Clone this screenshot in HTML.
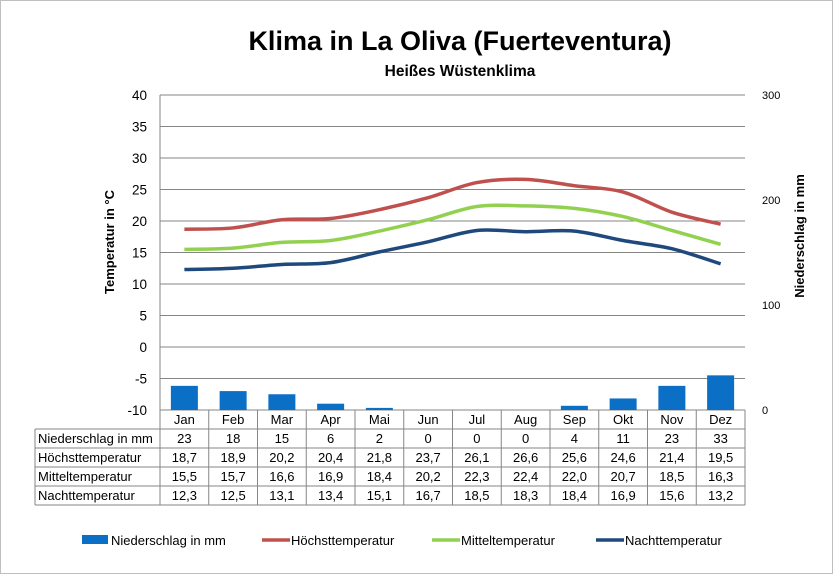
<!DOCTYPE html>
<html><head><meta charset="utf-8"><style>
body{margin:0;background:#fff;}
svg{display:block;font-family:"Liberation Sans",Arial,sans-serif;}
</style></head><body>
<svg id="chart" width="836" height="575" viewBox="0 0 836 575">
<rect x="0.5" y="0.5" width="832" height="573" fill="#fff" stroke="#bfbfbf"/>
<text x="460" y="50" text-anchor="middle" font-size="27" font-weight="bold">Klima in La Oliva (Fuerteventura)</text>
<text x="460" y="76" text-anchor="middle" font-size="15.5" font-weight="bold">Heißes Wüstenklima</text>
<text transform="translate(114,242) rotate(-90)" text-anchor="middle" font-size="13" font-weight="bold">Temperatur in °C</text>
<text transform="translate(804,236) rotate(-90)" text-anchor="middle" font-size="13" font-weight="bold">Niederschlag in mm</text>
<g id="grid"></g><g id="bars"></g><g id="lines"></g><g id="table"></g><g id="legend"></g>
</svg>
<script>
const months=["Jan","Feb","Mar","Apr","Mai","Jun","Jul","Aug","Sep","Okt","Nov","Dez"];
const rain=[23,18,15,6,2,0,0,0,4,11,23,33];
const tmax=[18.7,18.9,20.2,20.4,21.8,23.7,26.1,26.6,25.6,24.6,21.4,19.5];
const tmean=[15.5,15.7,16.6,16.9,18.4,20.2,22.3,22.4,22.0,20.7,18.5,16.3];
const tmin=[12.3,12.5,13.1,13.4,15.1,16.7,18.5,18.3,18.4,16.9,15.6,13.2];
const leftTicks=[40,35,30,25,20,15,10,5,0,-5,-10];
const rightTicks=[300,200,100,0];
const NS="http://www.w3.org/2000/svg";
const L=160,R=745,T=95,B=410,cw=(R-L)/12;
const yT=v=>B-(v+10)*(B-T)/50;
const yR=v=>B-v*(B-T)/300;
const xC=i=>L+cw*(i+0.5);
function mk(tag,attrs,parent,txt){const e=document.createElementNS(NS,tag);for(const k in attrs)e.setAttribute(k,attrs[k]);if(txt!==undefined)e.textContent=txt;parent.appendChild(e);return e;}
const fmt=v=>String(v.toFixed(1)).replace('.',',');
const grid=document.getElementById('grid');
leftTicks.forEach(t=>{
 const y=yT(t);
 const ln=mk('line',{x1:L,x2:R,y1:y,y2:y,stroke:'#868686','stroke-width':1},grid);
 
 
 const tx=mk('text',{x:147,y:y+5,'text-anchor':'end','font-size':13.5},grid,String(t));
 
 
});
mk('line',{x1:L,x2:L,y1:T,y2:B,stroke:'#868686'},grid);
rightTicks.forEach(t=>{
 const tx=mk('text',{x:762,y:yR(t)+4,'font-size':11},grid,String(t));
 
 
});
const bars=document.getElementById('bars');
rain.forEach((v,i)=>{
 const h=B-yR(v);
 const r=mk('rect',{x:xC(i)-13.5,y:yR(v),width:27,height:h,fill:'#0b6fc6'},bars);
 
 
});
function smooth(vals){
 const p=vals.map((v,i)=>[xC(i),yT(v)]);
 let d='M'+p[0][0]+','+p[0][1];
 for(let i=0;i<p.length-1;i++){
  const p0=p[i-1]||p[i],p1=p[i],p2=p[i+1],p3=p[i+2]||p2;
  const c1=[p1[0]+(p2[0]-p0[0])/6,p1[1]+(p2[1]-p0[1])/6];
  const c2=[p2[0]-(p3[0]-p1[0])/6,p2[1]-(p3[1]-p1[1])/6];
  d+=` C${c1[0]},${c1[1]} ${c2[0]},${c2[1]} ${p2[0]},${p2[1]}`;
 }
 return d;
}
const lines=document.getElementById('lines');
[[tmax,'#c0504d','line-hoechst'],[tmean,'#92d050','line-mittel'],[tmin,'#1f497d','line-nacht']].forEach(([d,c,n])=>{
 const p=mk('path',{d:smooth(d),fill:'none',stroke:c,'stroke-width':3.5},lines);
 
 
});
const tb=document.getElementById('table');
const rows=[["Niederschlag in mm",rain.map(String)],["Höchsttemperatur",tmax.map(fmt)],["Mitteltemperatur",tmean.map(fmt)],["Nachttemperatur",tmin.map(fmt)]];
const rh=19,t0=B;
months.forEach((m,i)=>{
 const tx=mk('text',{x:xC(i),y:t0+14,'text-anchor':'middle','font-size':13},tb,m);
 
 
});
const st={stroke:'#868686','stroke-width':1};
for(let i=0;i<=12;i++){mk('line',Object.assign({x1:L+cw*i,x2:L+cw*i,y1:t0,y2:t0+rh*5},st),tb);}
mk('line',Object.assign({x1:35,x2:35,y1:t0+rh,y2:t0+rh*5},st),tb);
for(let r=1;r<=5;r++){mk('line',Object.assign({x1:35,x2:R,y1:t0+rh*r,y2:t0+rh*r},st),tb);}
rows.forEach(([label,vals],r)=>{
 const y=t0+rh*(r+1)+14;
 const lt=mk('text',{x:38,y:y,'font-size':13},tb,label);
 
 
 vals.forEach((v,i)=>{
  const c=mk('text',{x:xC(i),y:y,'text-anchor':'middle','font-size':13},tb,v);
  
  
 });
});
const lg=document.getElementById('legend');
const items=[["Niederschlag in mm","#0b6fc6",82,true],["Höchsttemperatur","#c0504d",262,false],["Mitteltemperatur","#92d050",432,false],["Nachttemperatur","#1f497d",596,false]];
items.forEach(([t,c,x,bar])=>{
 if(bar)mk('rect',{x:x,y:535,width:26,height:9,fill:c},lg);
 else mk('line',{x1:x,x2:x+28,y1:540,y2:540,stroke:c,'stroke-width':3.5},lg);
 const tx=mk('text',{x:x+29,y:545,'font-size':13},lg,t);
 
 
});
</script>
</body></html>
